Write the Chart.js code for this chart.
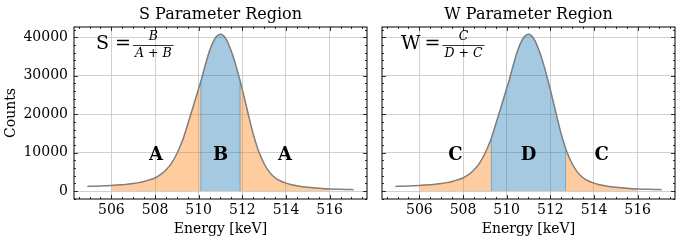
<!DOCTYPE html>
<html lang="en">
<head>
<meta charset="UTF-8">
<title>S and W Parameter Regions</title>
<style>
  body { margin: 0; background: #fff; }
  canvas { position: absolute; top: 0; }
  #chartS { left: 0; }
  #chartW { left: 372px; }
</style>
</head>
<body>
<canvas id="chartS" width="372" height="242"></canvas>
<canvas id="chartW" width="308" height="242"></canvas>
<script src="https://cdn.jsdelivr.net/npm/chart.js"></script>
<script>
// spectrum (keV, counts)
const energy = [504.9, 505.25, 505.5, 505.75, 506, 506.25, 506.5, 506.75, 507, 507.25, 507.5, 507.75,
  508, 508.25, 508.5, 508.75, 509, 509.25, 509.3, 509.5, 509.75, 510, 510.1, 510.25, 510.5, 510.75,
  511, 511.25, 511.5, 511.75, 511.9, 512, 512.25, 512.5, 512.7, 512.75, 513, 513.25, 513.5, 513.75,
  514, 514.25, 514.5, 514.75, 515, 515.25, 515.5, 515.75, 516, 516.25, 516.5, 516.75, 517.1];
const counts = [1200, 1250, 1300, 1370, 1450, 1540, 1650, 1780, 1950, 2180, 2500, 2900,
  3400, 4250, 5450, 7200, 9700, 13000, 13800, 17400, 22000, 26700, 28500, 31700, 36500, 39700,
  40800, 39600, 36300, 31800, 28600, 26400, 20500, 14800, 11100, 10300, 7100, 4850, 3450, 2600,
  2050, 1650, 1350, 1120, 950, 820, 710, 620, 550, 490, 440, 400, 350];

// region limits: [tail start, window start, window end, tail end]
const regionS = [506, 510.1, 511.9, 516];
const regionW = [506, 509.3, 512.7, 516];
const labelsS = ['A', 'B', 'A'];
const labelsW = ['C', 'D', 'C'];

const xTicks = [506, 508, 510, 512, 514, 516];
const yTicks = [0, 10000, 20000, 30000, 40000];

const orange = 'rgba(255,127,14,0.4)';
const blue = 'rgba(31,119,180,0.4)';
const serif = "'DejaVu Serif', serif";

function slice(lo, hi) {
  const out = [];
  energy.forEach((e, i) => {
    if (e >= lo - 1e-9 && e <= hi + 1e-9) out.push({x: e, y: counts[i]});
  });
  return out;
}

function valueAt(e) {
  return counts[energy.indexOf(e)];
}

const decor = {
  id: 'decor',
  afterDatasetsDraw(chart, args, o) {
    const {ctx, scales: {x, y}} = chart;
    ctx.save();
    // window edges
    ctx.strokeStyle = 'rgba(31,119,180,0.55)';
    ctx.lineWidth = 1;
    [o.region[1], o.region[2]].forEach(e => {
      const px = x.getPixelForValue(e);
      ctx.beginPath();
      ctx.moveTo(px, y.getPixelForValue(0));
      ctx.lineTo(px, y.getPixelForValue(valueAt(e)) + 1);
      ctx.stroke();
    });
    ctx.restore();
  },
  afterDraw(chart, args, o) {
    const {ctx, chartArea: a, scales: {x, y}} = chart;
    ctx.save();
    ctx.strokeStyle = '#000';
    ctx.lineWidth = 0.8;
    // inward ticks, all four sides
    ctx.beginPath();
    for (let v = 504.5; v <= 517.6; v += 0.5) {
      const px = Math.round(x.getPixelForValue(v)) + 0.5;
      const len = (v % 2 === 0) ? 4 : 2;
      ctx.moveTo(px, a.bottom); ctx.lineTo(px, a.bottom - len);
      ctx.moveTo(px, a.top); ctx.lineTo(px, a.top + len);
    }
    for (let v = -2000; v <= 42000; v += 2000) {
      const py = Math.round(y.getPixelForValue(v)) + 0.5;
      const len = (v % 10000 === 0) ? 4 : 2;
      ctx.moveTo(a.left, py); ctx.lineTo(a.left + len, py);
      ctx.moveTo(a.right, py); ctx.lineTo(a.right - len, py);
    }
    ctx.stroke();
    ctx.lineWidth = 1;
    ctx.strokeRect(a.left, a.top, a.right - a.left, a.bottom - a.top);

    // title
    ctx.fillStyle = '#000';
    ctx.font = '16px ' + serif;
    ctx.textAlign = 'center';
    ctx.textBaseline = 'alphabetic';
    ctx.fillText(o.title, (a.left + a.right) / 2, 18.5);

    // region letters
    ctx.font = 'bold 18px ' + serif;
    const r = o.region;
    const mids = [(r[0] + r[1]) / 2, (r[1] + r[2]) / 2, (r[2] + r[3]) / 2];
    mids.forEach((m, i) => {
      ctx.fillText(o.letters[i], x.getPixelForValue(m), y.getPixelForValue(8000));
    });

    // formula
    ctx.textAlign = 'left';
    let cx = a.left + o.formulaX;
    ctx.font = '19px ' + serif;
    ctx.fillText(o.formula[0], cx, 48.5);
    cx += ctx.measureText(o.formula[0]).width + o.gap;
    ctx.fillText('=', cx, 48.5);
    cx += ctx.measureText('=').width + 2;
    ctx.font = 'italic 12.5px ' + serif;
    const fw = Math.max(ctx.measureText(o.formula[1]).width, ctx.measureText(o.formula[2]).width) + 4;
    ctx.textAlign = 'center';
    ctx.fillText(o.formula[1], cx + fw / 2, 39.5);
    ctx.fillText(o.formula[2], cx + fw / 2, 56.5);
    ctx.beginPath();
    ctx.lineWidth = 0.8;
    ctx.moveTo(cx, 45.5); ctx.lineTo(cx + fw, 45.5);
    ctx.stroke();
    ctx.restore();
  }
};

function makeChart(id, region, letters, title, formula, opts) {
  const datasets = [
    {
      data: energy.map((e, i) => ({x: e, y: counts[i]})),
      borderColor: '#808080',
      borderWidth: 1.5,
      fill: false,
      order: 0
    },
    {
      data: slice(region[0], region[1]),
      backgroundColor: orange, borderColor: orange, borderWidth: 1,
      fill: 'origin', order: 2
    },
    {
      data: slice(region[2], region[3]),
      backgroundColor: orange, borderColor: orange, borderWidth: 1,
      fill: 'origin', order: 2
    },
    {
      data: slice(region[1], region[2]),
      backgroundColor: blue, borderColor: blue, borderWidth: 1,
      fill: 'origin', order: 1
    }
  ];

  return new Chart(document.getElementById(id), {
    type: 'scatter',
    data: {datasets: datasets},
    options: {
      responsive: false,
      animation: false,
      showLine: true,
      elements: {
        point: {radius: 0},
        line: {cubicInterpolationMode: 'monotone'}
      },
      layout: {padding: {top: 27, right: 5, left: 0, bottom: 0}},
      plugins: {
        legend: {display: false},
        tooltip: {enabled: false},
        decor: {region: region, letters: letters, title: title, formula: formula,
                formulaX: opts.formulaX, gap: opts.gap}
      },
      scales: {
        x: {
          type: 'linear',
          min: 504.29, max: 517.71,
          afterBuildTicks: s => { s.ticks = xTicks.map(v => ({value: v})); },
          afterFit: s => { s.height = 43; },
          grid: {color: '#c4c4c4', lineWidth: 0.8, drawTicks: false},
          border: {display: false},
          ticks: {
            color: '#000', padding: 3, maxRotation: 0,
            font: {family: serif, size: 14},
            callback: v => String(v)
          },
          title: {
            display: true, text: 'Energy [keV]', color: '#000',
            font: {family: serif, size: 14}, padding: {top: 0, bottom: 4}
          }
        },
        y: {
          min: -2080, max: 42700,
          afterBuildTicks: s => { s.ticks = yTicks.map(v => ({value: v})); },
          afterFit: s => { s.width = opts.yWidth; },
          grid: {color: '#c4c4c4', lineWidth: 0.8, drawTicks: false},
          border: {display: false},
          ticks: {
            display: opts.yLabels, color: '#000', padding: 6,
            font: {family: serif, size: 14},
            callback: v => String(v)
          },
          title: {
            display: opts.yLabels, text: 'Counts', color: '#000',
            font: {family: serif, size: 14}, padding: {top: 3, bottom: 0}
          }
        }
      }
    },
    plugins: [decor]
  });
}

makeChart('chartS', regionS, labelsS, 'S Parameter Region', ['S', 'B', 'A + B'], {yWidth: 74, yLabels: true, formulaX: 22, gap: 6});
makeChart('chartW', regionW, labelsW, 'W Parameter Region', ['W', 'C', 'D + C'], {yWidth: 10, yLabels: false, formulaX: 19, gap: 4});
</script>
</body>
</html>
